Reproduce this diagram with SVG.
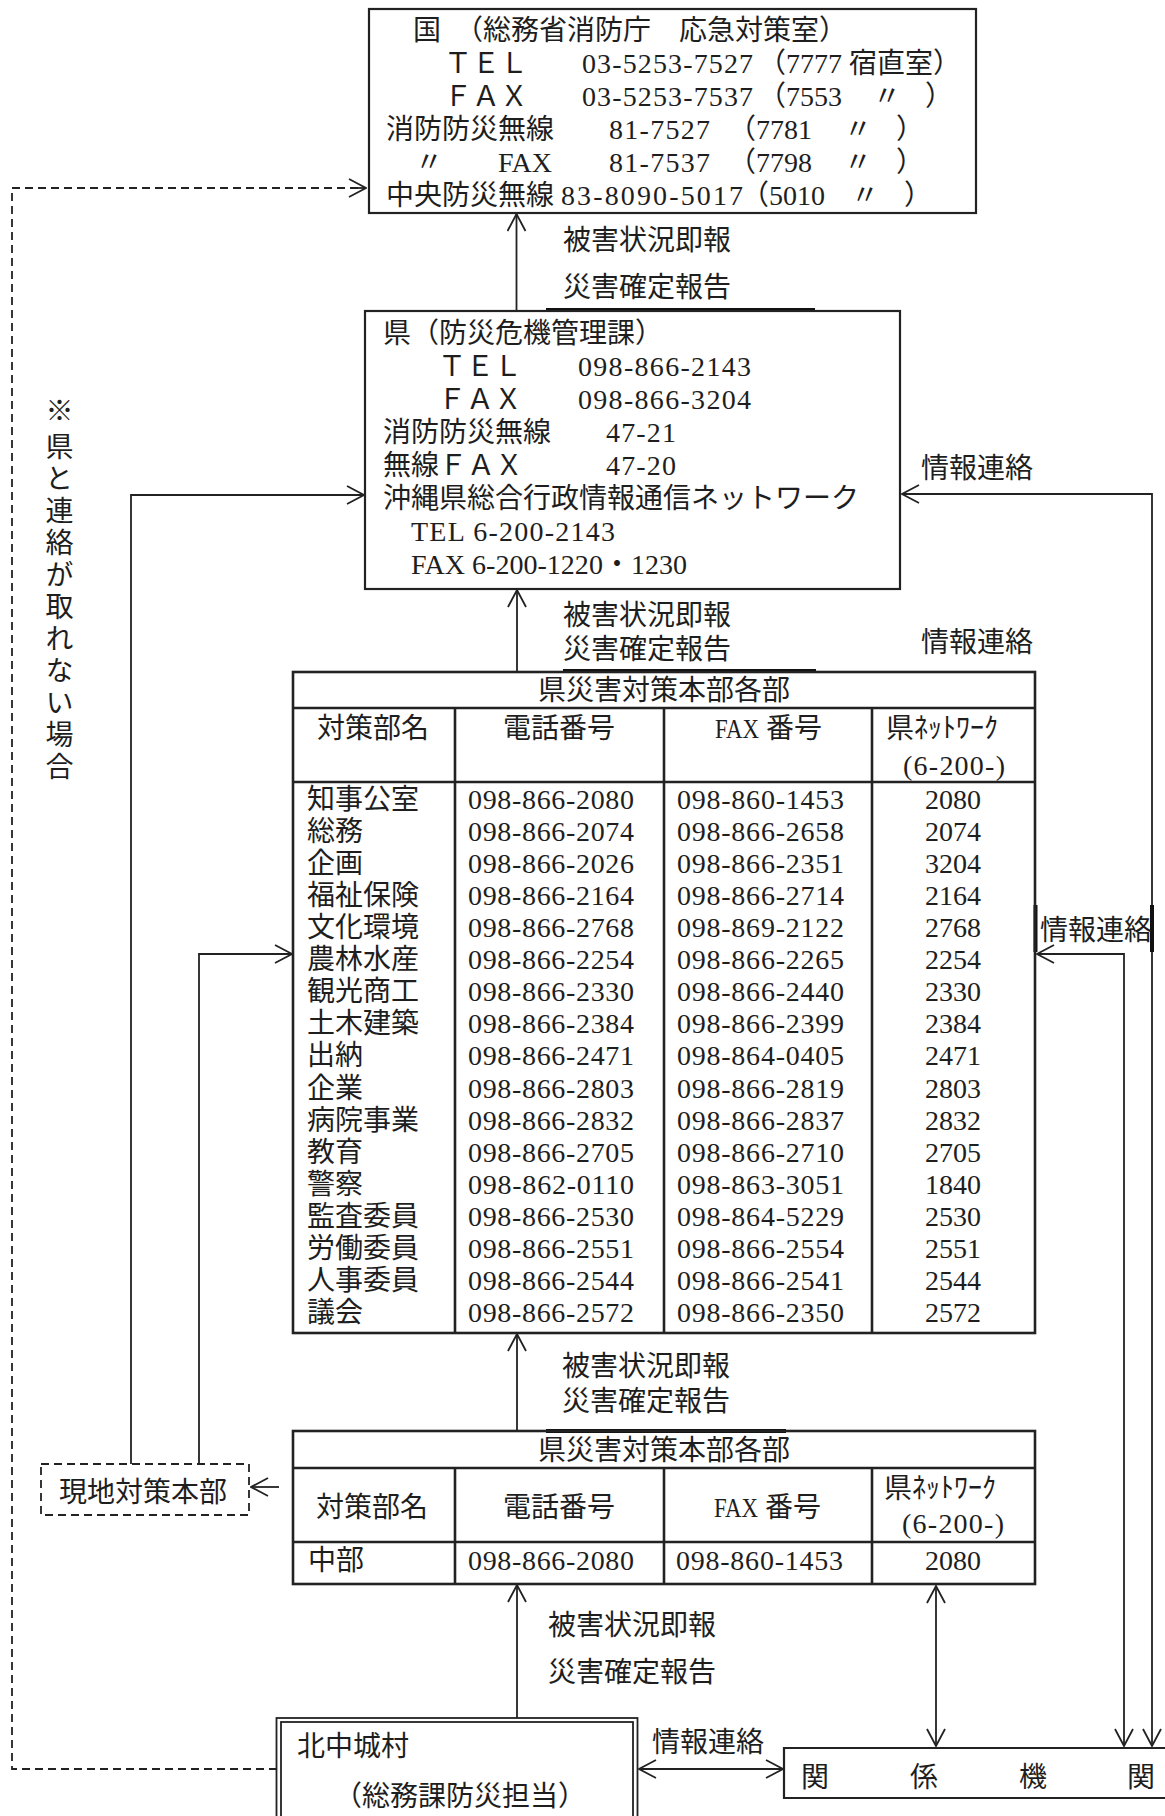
<svg xmlns="http://www.w3.org/2000/svg" width="1165" height="1816" viewBox="0 0 1165 1816">
<style>
.t{font-family:"Liberation Serif","Noto Sans CJK JP",serif;font-size:28px;fill:#1e1e1e}
.m{text-anchor:middle}
.box{fill:none;stroke:#222;stroke-width:2.2}
.tb{fill:none;stroke:#222;stroke-width:2.6}
.ln{fill:none;stroke:#222;stroke-width:1.8}
.dash{stroke-dasharray:8 5}
.thick{stroke:#111;stroke-width:4}
</style>
<defs>
<marker id="ah" viewBox="0 0 20 20" refX="19" refY="10" markerWidth="20" markerHeight="20" markerUnits="userSpaceOnUse" orient="auto-start-reverse">
<path d="M2,1 L19,10 L2,19" fill="none" stroke="#222" stroke-width="1.8"/>
</marker>
</defs>
<rect width="1165" height="1816" fill="#fff"/>

<g id="connectors">
<path class="ln" d="M516.5,310 V214" marker-end="url(#ah)"/>
<path class="ln" d="M517,671 V590" marker-end="url(#ah)"/>
<path class="ln" d="M517,1431 V1334" marker-end="url(#ah)"/>
<path class="ln" d="M517,1718 V1585" marker-end="url(#ah)"/>
<path class="ln" d="M936,1586 V1746" marker-start="url(#ah)" marker-end="url(#ah)"/>
<path class="ln" d="M639,1769 H783" marker-start="url(#ah)" marker-end="url(#ah)"/>
<path class="ln" d="M131,1464 V495 H364" marker-end="url(#ah)"/>
<path class="ln" d="M199,1464 V954 H292" marker-end="url(#ah)"/>
<path class="ln" d="M279,1487 H251" marker-end="url(#ah)"/>
<path class="ln" d="M1152,1746 V494 H902" marker-start="url(#ah)" marker-end="url(#ah)"/>
<path class="ln" d="M1124,1746 V954 H1037" marker-start="url(#ah)" marker-end="url(#ah)"/>
<path class="ln dash" d="M277,1769 H12 V188 H366"/>
<path class="ln" d="M350,188 H366" marker-end="url(#ah)"/>
<line class="thick" x1="546" y1="310" x2="815" y2="310"/>
<line class="thick" x1="563" y1="671" x2="816" y2="671"/>
<line class="thick" x1="546" y1="1431" x2="786" y2="1431"/>
<line class="thick" x1="1035.5" y1="905" x2="1035.5" y2="952"/>
<line class="thick" x1="1152" y1="905" x2="1152" y2="952"/>
</g>

<g id="labels">
<text class="t" x="563" y="250">被害状況即報</text>
<text class="t" x="563" y="297">災害確定報告</text>
<text class="t" x="563" y="625">被害状況即報</text>
<text class="t" x="563" y="659">災害確定報告</text>
<text class="t" x="921" y="478">情報連絡</text>
<text class="t" x="921" y="652">情報連絡</text>
<text class="t" x="1040" y="940">情報連絡</text>
<text class="t" x="562" y="1376">被害状況即報</text>
<text class="t" x="562" y="1411">災害確定報告</text>
<text class="t" x="548" y="1635">被害状況即報</text>
<text class="t" x="548" y="1682">災害確定報告</text>
<text class="t" x="652" y="1752">情報連絡</text>
<text class="t" style="writing-mode:vertical-rl" x="57"><tspan y="396">※</tspan><tspan y="432" letter-spacing="4">県と連絡が取れない場合</tspan></text>
</g>

<g id="node-kuni">
<rect class="box" x="369" y="9" width="607" height="204"/>
<text class="t" x="413" y="40">国　（総務省消防庁　応急対策室）</text>
<text class="t" y="73"><tspan x="444">ＴＥＬ</tspan><tspan x="582" textLength="171" lengthAdjust="spacing">03-5253-7527</tspan><tspan x="758">（7777 宿直室）</tspan></text>
<text class="t" y="106"><tspan x="444">ＦＡＸ</tspan><tspan x="582" textLength="171" lengthAdjust="spacing">03-5253-7537</tspan><tspan x="758">（7553</tspan><tspan x="873">〃</tspan><tspan x="925">）</tspan></text>
<text class="t" y="139"><tspan x="386">消防防災無線</tspan><tspan x="609" textLength="101" lengthAdjust="spacing">81-7527</tspan><tspan x="728">（7781</tspan><tspan x="844">〃</tspan><tspan x="896">）</tspan></text>
<text class="t" y="172"><tspan x="415">〃</tspan><tspan x="498">FAX</tspan><tspan x="609" textLength="101" lengthAdjust="spacing">81-7537</tspan><tspan x="728">（7798</tspan><tspan x="844">〃</tspan><tspan x="896">）</tspan></text>
<text class="t" y="205"><tspan x="386">中央防災無線</tspan><tspan x="561" textLength="182" lengthAdjust="spacing">83-8090-5017</tspan><tspan x="741">（5010</tspan><tspan x="851">〃</tspan><tspan x="904">）</tspan></text>
</g>

<g id="node-ken">
<rect class="box" x="365" y="311" width="535" height="278"/>
<text class="t" x="383" y="343">県（防災危機管理課）</text>
<text class="t" y="376"><tspan x="438">ＴＥＬ</tspan><tspan x="578" textLength="173" lengthAdjust="spacing">098-866-2143</tspan></text>
<text class="t" y="409"><tspan x="438">ＦＡＸ</tspan><tspan x="578" textLength="173" lengthAdjust="spacing">098-866-3204</tspan></text>
<text class="t" y="442"><tspan x="383">消防防災無線</tspan><tspan x="606" textLength="70" lengthAdjust="spacing">47-21</tspan></text>
<text class="t" y="475"><tspan x="383">無線ＦＡＸ</tspan><tspan x="606" textLength="70" lengthAdjust="spacing">47-20</tspan></text>
<text class="t" x="383" y="508">沖縄県総合行政情報通信ネットワーク</text>
<text class="t" x="411" y="541" textLength="204" lengthAdjust="spacing">TEL 6-200-2143</text>
<text class="t" x="411" y="574" textLength="276" lengthAdjust="spacing">FAX 6-200-1220・1230</text>
</g>

<g id="node-table1">
<rect class="tb" x="293" y="672" width="742" height="661"/>
<path class="tb" d="M293,708 H1035 M293,782 H1035 M455,708 V1333 M664,708 V1333 M872,708 V1333"/>
<text class="t m" x="664" y="700">県災害対策本部各部</text>
<text class="t m" x="373" y="738">対策部名</text>
<text class="t m" x="559" y="738">電話番号</text>
<text class="t" x="715" y="738"><tspan textLength="44" lengthAdjust="spacingAndGlyphs">FAX</tspan> 番号</text>
<text class="t" x="886" y="738">県ﾈｯﾄﾜｰｸ</text>
<text class="t" x="903" y="775" textLength="102" lengthAdjust="spacing">(6-200-)</text>
<g id="rows1">
<text class="t" x="307" y="809">知事公室</text><text class="t" x="468" y="809" textLength="166" lengthAdjust="spacing">098-866-2080</text><text class="t" x="677" y="809" textLength="167" lengthAdjust="spacing">098-860-1453</text><text class="t m" x="953" y="809">2080</text>
<text class="t" x="307" y="841">総務</text><text class="t" x="468" y="841" textLength="166" lengthAdjust="spacing">098-866-2074</text><text class="t" x="677" y="841" textLength="167" lengthAdjust="spacing">098-866-2658</text><text class="t m" x="953" y="841">2074</text>
<text class="t" x="307" y="873">企画</text><text class="t" x="468" y="873" textLength="166" lengthAdjust="spacing">098-866-2026</text><text class="t" x="677" y="873" textLength="167" lengthAdjust="spacing">098-866-2351</text><text class="t m" x="953" y="873">3204</text>
<text class="t" x="307" y="905">福祉保険</text><text class="t" x="468" y="905" textLength="166" lengthAdjust="spacing">098-866-2164</text><text class="t" x="677" y="905" textLength="167" lengthAdjust="spacing">098-866-2714</text><text class="t m" x="953" y="905">2164</text>
<text class="t" x="307" y="937">文化環境</text><text class="t" x="468" y="937" textLength="166" lengthAdjust="spacing">098-866-2768</text><text class="t" x="677" y="937" textLength="167" lengthAdjust="spacing">098-869-2122</text><text class="t m" x="953" y="937">2768</text>
<text class="t" x="307" y="969">農林水産</text><text class="t" x="468" y="969" textLength="166" lengthAdjust="spacing">098-866-2254</text><text class="t" x="677" y="969" textLength="167" lengthAdjust="spacing">098-866-2265</text><text class="t m" x="953" y="969">2254</text>
<text class="t" x="307" y="1001">観光商工</text><text class="t" x="468" y="1001" textLength="166" lengthAdjust="spacing">098-866-2330</text><text class="t" x="677" y="1001" textLength="167" lengthAdjust="spacing">098-866-2440</text><text class="t m" x="953" y="1001">2330</text>
<text class="t" x="307" y="1033">土木建築</text><text class="t" x="468" y="1033" textLength="166" lengthAdjust="spacing">098-866-2384</text><text class="t" x="677" y="1033" textLength="167" lengthAdjust="spacing">098-866-2399</text><text class="t m" x="953" y="1033">2384</text>
<text class="t" x="307" y="1065">出納</text><text class="t" x="468" y="1065" textLength="166" lengthAdjust="spacing">098-866-2471</text><text class="t" x="677" y="1065" textLength="167" lengthAdjust="spacing">098-864-0405</text><text class="t m" x="953" y="1065">2471</text>
<text class="t" x="307" y="1098">企業</text><text class="t" x="468" y="1098" textLength="166" lengthAdjust="spacing">098-866-2803</text><text class="t" x="677" y="1098" textLength="167" lengthAdjust="spacing">098-866-2819</text><text class="t m" x="953" y="1098">2803</text>
<text class="t" x="307" y="1130">病院事業</text><text class="t" x="468" y="1130" textLength="166" lengthAdjust="spacing">098-866-2832</text><text class="t" x="677" y="1130" textLength="167" lengthAdjust="spacing">098-866-2837</text><text class="t m" x="953" y="1130">2832</text>
<text class="t" x="307" y="1162">教育</text><text class="t" x="468" y="1162" textLength="166" lengthAdjust="spacing">098-866-2705</text><text class="t" x="677" y="1162" textLength="167" lengthAdjust="spacing">098-866-2710</text><text class="t m" x="953" y="1162">2705</text>
<text class="t" x="307" y="1194">警察</text><text class="t" x="468" y="1194" textLength="166" lengthAdjust="spacing">098-862-0110</text><text class="t" x="677" y="1194" textLength="167" lengthAdjust="spacing">098-863-3051</text><text class="t m" x="953" y="1194">1840</text>
<text class="t" x="307" y="1226">監査委員</text><text class="t" x="468" y="1226" textLength="166" lengthAdjust="spacing">098-866-2530</text><text class="t" x="677" y="1226" textLength="167" lengthAdjust="spacing">098-864-5229</text><text class="t m" x="953" y="1226">2530</text>
<text class="t" x="307" y="1258">労働委員</text><text class="t" x="468" y="1258" textLength="166" lengthAdjust="spacing">098-866-2551</text><text class="t" x="677" y="1258" textLength="167" lengthAdjust="spacing">098-866-2554</text><text class="t m" x="953" y="1258">2551</text>
<text class="t" x="307" y="1290">人事委員</text><text class="t" x="468" y="1290" textLength="166" lengthAdjust="spacing">098-866-2544</text><text class="t" x="677" y="1290" textLength="167" lengthAdjust="spacing">098-866-2541</text><text class="t m" x="953" y="1290">2544</text>
<text class="t" x="307" y="1322">議会</text><text class="t" x="468" y="1322" textLength="166" lengthAdjust="spacing">098-866-2572</text><text class="t" x="677" y="1322" textLength="167" lengthAdjust="spacing">098-866-2350</text><text class="t m" x="953" y="1322">2572</text>
</g>
</g>

<g id="node-table2">
<rect class="tb" x="293" y="1431" width="742" height="153"/>
<path class="tb" d="M293,1468 H1035 M293,1542 H1035 M455,1468 V1584 M664,1468 V1584 M872,1468 V1584"/>
<text class="t m" x="664" y="1460">県災害対策本部各部</text>
<text class="t m" x="372" y="1517">対策部名</text>
<text class="t m" x="559" y="1517">電話番号</text>
<text class="t" x="714" y="1517"><tspan textLength="44" lengthAdjust="spacingAndGlyphs">FAX</tspan> 番号</text>
<text class="t" x="884" y="1498">県ﾈｯﾄﾜｰｸ</text>
<text class="t" x="902" y="1533" textLength="102" lengthAdjust="spacing">(6-200-)</text>
<text class="t" x="308" y="1570">中部</text>
<text class="t" x="468" y="1570" textLength="166" lengthAdjust="spacing">098-866-2080</text>
<text class="t" x="676" y="1570" textLength="167" lengthAdjust="spacing">098-860-1453</text>
<text class="t m" x="953" y="1570">2080</text>
</g>

<g id="node-genchi">
<rect class="ln dash" x="41" y="1464" width="208" height="51"/>
<text class="t" x="59" y="1502">現地対策本部</text>
</g>

<g id="node-kitanakagusuku">
<rect class="ln" x="276.5" y="1718" width="361" height="120"/>
<rect class="ln" x="281" y="1722" width="352" height="120"/>
<text class="t" x="297" y="1756">北中城村</text>
<text class="t" x="334" y="1806">（総務課防災担当）</text>
</g>

<g id="node-kankeikikan">
<path class="box" d="M1170,1748 H784 V1798 H1170"/>
<text class="t" y="1787"><tspan x="801">関</tspan><tspan x="910">係</tspan><tspan x="1019">機</tspan><tspan x="1127">関</tspan></text>
</g>
</svg>
